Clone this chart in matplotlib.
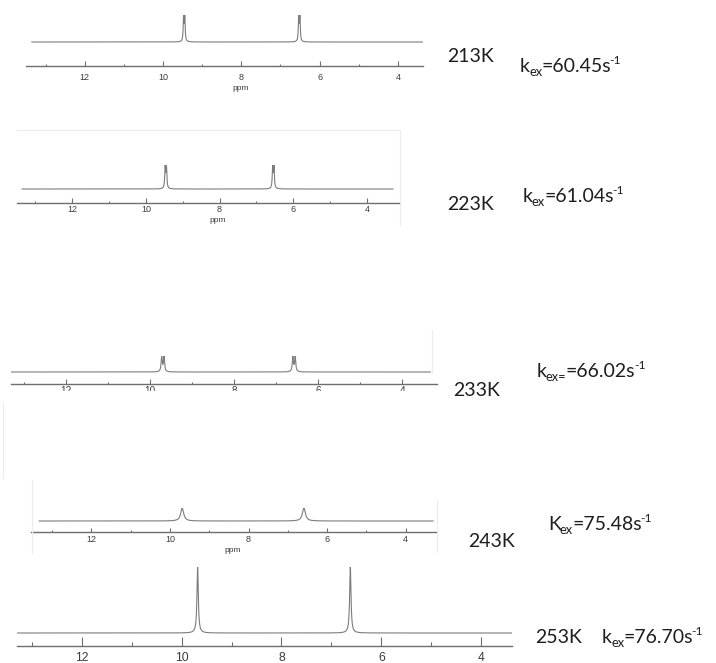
import numpy as np
import matplotlib.pyplot as plt
from matplotlib.ticker import MultipleLocator
from matplotlib.patches import Rectangle
from matplotlib.lines import Line2D

plt.rcParams['font.family'] = ['Liberation Sans', 'DejaVu Sans']

W, H = 716, 663

# variable temperature 1H spectra, exchange rates from lineshape fitting
temps = ['213K', '223K', '233K', '243K', '253K']
k_symbol = ['k', 'k', 'k', 'K', 'k']
k_sub = ['ex', 'ex', 'ex=', 'ex', 'ex']
kex = ['60.45', '61.04', '66.02', '75.48', '76.70']
shift_a = [9.46, 9.46, 9.69, 9.69, 9.68]      # downfield signal (ppm)
shift_b = [6.52, 6.54, 6.57, 6.59, 6.62]      # upfield signal (ppm)
splitting = [0.03, 0.035, 0.055, 0.0, 0.0]    # doublet splitting (ppm)
hwhm = [0.012, 0.014, 0.016, 0.045, 0.016]    # half width at half height (ppm)
peak_height = [27, 24, 16, 13, 66]
spec_from = [13.35, 13.36, 13.30, 13.33, 13.30]
spec_to = [3.36, 3.29, 3.33, 3.30, 3.38]

# layout of each strip in pixels: left, right, axis line, peak top
boxes = [(26, 423, 66, 15), (17, 400, 203, 165), (11, 437, 384, 356),
         (31, 437, 532, 508), (17, 512, 646, 567)]
xlims = [(13.5, 3.36), (13.5, 3.1), (13.3, 3.17), (13.54, 3.2), (13.3, 3.38)]
base_gap = [24, 14, 12, 11, 13]
tick_fs = [6.5, 6.5, 7.2, 6.5, 8.7]
tick_pad = [5.2, 1.8, 1.5, 2.5, 4.3]
major_len = [3.6, 3.4, 3.4, 3.2, 6.3]
minor_len = [1.8, 1.7, 1.7, 1.6, 3.0]
ppm_pos = [(241, 88), (218, 221), None, (233, 550), None]
temp_pos = [(447, 62), (447, 210), (453, 396), (468, 547), (535, 643)]
kex_pos = [(520, 72), (523, 202), (537, 377), (548, 530), (602, 643)]

FS = 14
FAM = ['Lato', 'DejaVu Sans']


def fx(x):
    return x / W


def fy(y):
    return 1 - y / H


def lorentz(x, c, w):
    return w**2 / ((x - c)**2 + w**2)


fig = plt.figure(figsize=(W / 100, H / 100), dpi=100)
renderer = fig.canvas.get_renderer()


def rich_text(x, y, parts):
    # parts: (text, fontsize, baseline shift in px); drawn left to right
    for s, size, dy in parts:
        t = fig.text(fx(x), fy(y - dy), s, family=FAM, fontsize=size,
                     color='#1e1e1e', ha='left', va='baseline')
        x = t.get_window_extent(renderer).x1 - 1


for i in range(5):
    left, right, yaxis, ytop = boxes[i]
    ax = fig.add_axes([fx(left), fy(yaxis), (right - left) / W, (yaxis - ytop) / H])

    x = np.linspace(spec_from[i], spec_to[i], 40000)
    y = np.zeros_like(x)
    for c in (shift_a[i], shift_b[i]):
        d = splitting[i] / 2
        if d > 0:
            y += lorentz(x, c - d, hwhm[i]) + lorentz(x, c + d, hwhm[i])
        else:
            y += lorentz(x, c, hwhm[i])
    y = y / y.max() * peak_height[i]

    ax.plot(x, y, color='#7c7c7c', lw=0.8)
    ax.set_xlim(*xlims[i])
    ax.set_ylim(-base_gap[i], peak_height[i])
    ax.patch.set_alpha(0)
    for s in ('left', 'right', 'top'):
        ax.spines[s].set_visible(False)
    ax.spines['bottom'].set_color('#6e6e6e')
    ax.spines['bottom'].set_linewidth(1.0)
    ax.set_yticks([])
    ax.xaxis.set_major_locator(MultipleLocator(2))
    ax.xaxis.set_minor_locator(MultipleLocator(1))
    ax.tick_params(axis='x', which='major', direction='in', length=major_len[i],
                   width=0.8, color='#6e6e6e', labelsize=tick_fs[i],
                   labelcolor='#3c3c3c', pad=tick_pad[i])
    ax.tick_params(axis='x', which='minor', direction='in', length=minor_len[i],
                   width=0.8, color='#6e6e6e')

    if ppm_pos[i] is not None:
        fig.text(fx(ppm_pos[i][0]), fy(ppm_pos[i][1]), 'ppm', fontsize=6,
                 color='#3c3c3c', ha='center', va='center')

    fig.text(fx(temp_pos[i][0]), fy(temp_pos[i][1]), temps[i], family=FAM,
             fontsize=FS, color='#1e1e1e', ha='left', va='baseline')
    rich_text(kex_pos[i][0], kex_pos[i][1],
              [(k_symbol[i], FS, 0), (k_sub[i], FS * 0.66, -4),
               ('=' + kex[i] + 's', FS, 0), ('-1', FS * 0.62, 8)])

# the 233K strip is cropped just under its axis
fig.add_artist(Rectangle((0, fy(401)), fx(442), (401 - 391) / H,
                         transform=fig.transFigure, color='white', zorder=5))

# faint frame edges left around the pasted strips
for (x0, y0, x1, y1) in [(17, 130, 400, 130), (400, 130, 400, 225),
                         (3, 395, 3, 478), (32, 480, 32, 553),
                         (437, 500, 437, 552), (432, 330, 432, 373)]:
    fig.add_artist(Line2D([fx(x0), fx(x1)], [fy(y0), fy(y1)], color='#ececec',
                          lw=0.8, transform=fig.transFigure))

fig.savefig('out.png', dpi=100)
